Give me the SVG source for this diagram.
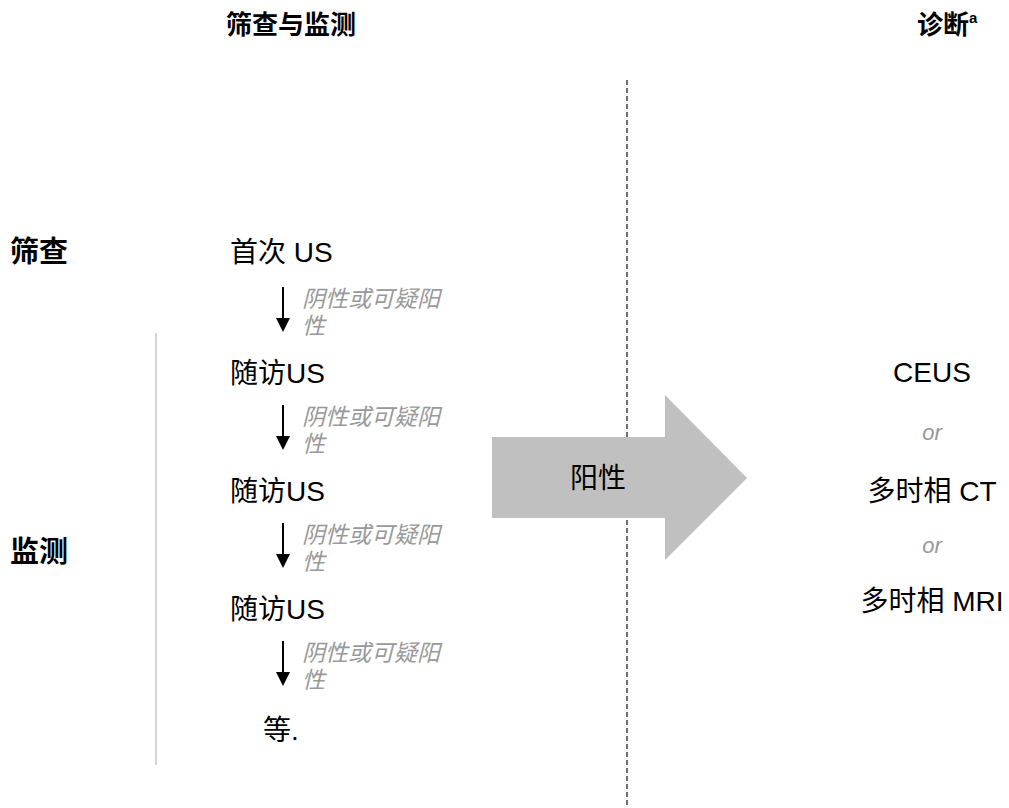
<svg xmlns="http://www.w3.org/2000/svg" width="1009" height="808" viewBox="0 0 1009 808">
<style>
.hdr{font-family:"Liberation Sans","Noto Sans CJK SC",sans-serif;font-size:26px;font-weight:bold;fill:#000}
.side{font-family:"Liberation Sans","Noto Sans CJK SC",sans-serif;font-size:29px;font-weight:bold;fill:#000}
.node{font-family:"Liberation Sans","Noto Sans CJK SC",sans-serif;font-size:28px;fill:#000}
.lbl{font-family:"Liberation Sans","Noto Sans CJK SC",sans-serif;font-size:23px;font-style:italic;fill:#999}
.or{font-family:"Liberation Sans","Noto Sans CJK SC",sans-serif;font-size:22px;font-style:italic;fill:#999}
.arr{stroke:#000;stroke-width:2;fill:none}
</style>
<rect width="1009" height="808" fill="#fff"/>
<g id="headers">
<text class="hdr" x="226" y="34">筛查与监测</text>
<text class="hdr" x="917" y="34">诊断<tspan font-size="15" dy="-11">a</tspan></text>
</g>
<g id="side-labels">
<text class="side" x="10" y="262">筛查</text>
<text class="side" x="10" y="562">监测</text>
<line x1="156" y1="333" x2="156" y2="765" stroke="#c8c8c8" stroke-width="1.5"/>
</g>
<g id="divider">
<line x1="627" y1="80" x2="627" y2="808" stroke="#222" stroke-width="1.3" stroke-dasharray="5,3"/>
</g>
<g id="node-first-us"><text class="node" x="230" y="262">首次 US</text></g>
<g id="node-followup-1"><text class="node" x="230" y="383">随访US</text></g>
<g id="node-followup-2"><text class="node" x="230" y="501">随访US</text></g>
<g id="node-followup-3"><text class="node" x="230" y="619">随访US</text></g>
<g id="node-etc"><text class="node" x="263" y="740">等.</text></g>
<g id="connectors">
<g>
<line class="arr" x1="283" y1="287" x2="283" y2="320"/><path d="M276,318 L290,318 L283,332 Z"/>
<line class="arr" x1="283" y1="405" x2="283" y2="438"/><path d="M276,436 L290,436 L283,450 Z"/>
<line class="arr" x1="283" y1="523" x2="283" y2="556"/><path d="M276,554 L290,554 L283,568 Z"/>
<line class="arr" x1="283" y1="641" x2="283" y2="674"/><path d="M276,672 L290,672 L283,686 Z"/>
</g>
<g id="labels">
<text class="lbl" x="302" y="307">阴性或可疑阳</text><text class="lbl" x="302" y="334">性</text>
<text class="lbl" x="302" y="425">阴性或可疑阳</text><text class="lbl" x="302" y="452">性</text>
<text class="lbl" x="302" y="543">阴性或可疑阳</text><text class="lbl" x="302" y="570">性</text>
<text class="lbl" x="302" y="661">阴性或可疑阳</text><text class="lbl" x="302" y="688">性</text>
</g>
</g>
<g id="positive-arrow">
<path d="M492,437 L665,437 L665,395 L747,478 L665,560 L665,518 L492,518 Z" fill="#c0c0c0"/>
<text class="node" x="598" y="488" text-anchor="middle">阳性</text>
</g>
<g id="diagnosis">
<text class="node" x="932" y="382" text-anchor="middle">CEUS</text>
<text class="or" x="932" y="440" text-anchor="middle">or</text>
<text class="node" x="932" y="501" text-anchor="middle">多时相 CT</text>
<text class="or" x="932" y="553" text-anchor="middle">or</text>
<text class="node" x="932" y="611" text-anchor="middle">多时相 MRI</text>
</g>
</svg>
